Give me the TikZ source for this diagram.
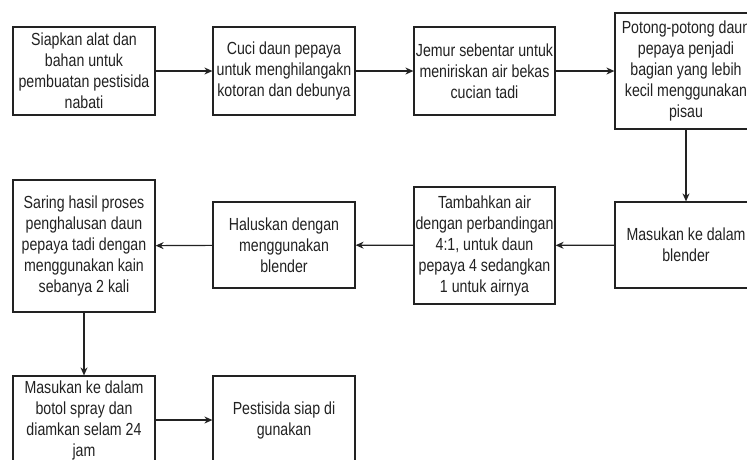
\documentclass[tikz,border=0pt]{standalone}
\usepackage{fontspec}
\setmainfont[FakeStretch=0.81]{Liberation Sans}
\usetikzlibrary{arrows.meta}
\definecolor{ink}{HTML}{222222}
\tikzset{
  stepbox/.style={draw=ink, line width=1.2pt, fill=white, align=center, inner sep=0pt,
    text=ink, font=\fontsize{17.5}{21}\selectfont},
  flow/.style={draw=ink, line width=1.2pt, -{Stealth[length=8pt,width=7pt]}}
}
\begin{document}
\begin{tikzpicture}[x=1pt,y=-1pt]
\useasboundingbox (0,0) rectangle (747,459);
\clip (0,0) rectangle (747,459);
\node[stepbox, minimum width=142pt, minimum height=88pt] (b1) at (84,71) {Siapkan alat dan\\bahan untuk\\pembuatan pestisida\\nabati};
\node[stepbox, minimum width=142pt, minimum height=88pt] (b2) at (284,71) {Cuci daun pepaya\\untuk menghilangakn\\kotoran dan debunya};
\node[stepbox, minimum width=141pt, minimum height=88pt] (b3) at (484.5,71) {Jemur sebentar untuk\\meniriskan air bekas\\cucian tadi};
\node[stepbox, minimum width=142pt, minimum height=116pt] (b4) at (686,71) {Potong-potong daun\\pepaya penjadi\\bagian yang lebih\\kecil menggunakan\\pisau};
\node[stepbox, minimum width=142pt, minimum height=86pt] (b5) at (686,245) {Masukan ke dalam\\blender};
\node[stepbox, minimum width=141pt, minimum height=117pt] (b6) at (484.5,245.5) {Tambahkan air\\dengan perbandingan\\4:1, untuk daun\\pepaya 4 sedangkan\\1 untuk airnya};
\node[stepbox, minimum width=142pt, minimum height=86pt] (b7) at (284,245) {Haluskan dengan\\menggunakan\\blender};
\node[stepbox, minimum width=142pt, minimum height=132pt] (b8) at (84,246) {Saring hasil proses\\penghalusan daun\\pepaya tadi dengan\\menggunakan kain\\sebanya 2 kali};
\node[stepbox, minimum width=142pt, minimum height=88pt] (b9) at (84,420) {Masukan ke dalam\\botol spray dan\\diamkan selam 24\\jam};
\node[stepbox, minimum width=142pt, minimum height=88pt] (b10) at (284,420) {Pestisida siap di\\gunakan};
\draw[flow] (b1) -- (b2);
\draw[flow] (b2) -- (b3);
\draw[flow] (b3) -- (b4);
\draw[flow] (b4) -- (b5);
\draw[flow] (b5) -- (b6);
\draw[flow] (b6) -- (b7);
\draw[flow] (b7) -- (b8);
\draw[flow] (b8) -- (b9);
\draw[flow] (b9) -- (b10);
\end{tikzpicture}
\end{document}
